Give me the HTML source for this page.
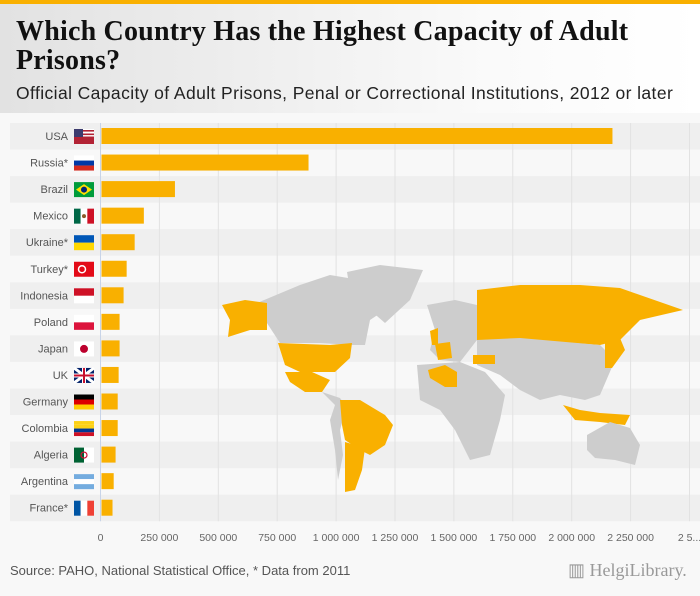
<!DOCTYPE html>
<html><head><meta charset="utf-8"><style>
body{margin:0;width:700px;height:596px;overflow:hidden;background:#f8f8f8;font-family:"Liberation Sans",sans-serif;position:relative}
#topbar{position:absolute;left:0;top:0;width:700px;height:4px;background:#f9b000}
#header{position:absolute;left:0;top:4px;width:700px;height:109px;background:linear-gradient(90deg,#e2e2e2,#fafafa 70%,#fff)}
#title{position:absolute;left:16px;top:13px;font-family:"Liberation Serif",serif;font-weight:bold;font-size:28px;line-height:29px;color:#111;letter-spacing:0.2px;white-space:nowrap}
#subtitle{position:absolute;left:16px;top:79px;font-size:17.5px;color:#222;white-space:nowrap;letter-spacing:0.4px}
#source{position:absolute;left:10px;top:563px;font-size:13px;color:#555}
#logo{position:absolute;left:568px;top:560px;font-family:"Liberation Serif",serif;font-size:18px;color:#999}
svg{position:absolute;left:0;top:0}
</style></head><body>
<div id="topbar"></div>
<div id="header">
<div id="title">Which Country Has the Highest Capacity of Adult<br>Prisons?</div>
<div id="subtitle">Official Capacity of Adult Prisons, Penal or Correctional Institutions, 2012 or later</div>
</div>
<svg id="chart" width="700" height="596"></svg>
<div id="source">Source: PAHO, National Statistical Office, * Data from 2011</div>
<div id="logo">▥ HelgiLibrary.</div>
<script>
const categories=["USA","Russia*","Brazil","Mexico","Ukraine*","Turkey*","Indonesia","Poland","Japan","UK","Germany","Colombia","Algeria","Argentina","France*"];
const values=[2173000,883000,316000,184000,145000,111000,98000,81000,81000,77000,73000,73000,64000,56000,51000];
const tickValues=[0,250000,500000,750000,1000000,1250000,1500000,1750000,2000000,2250000,2500000];
const tickLabels=["0","250 000","500 000","750 000","1 000 000","1 250 000","1 500 000","1 750 000","2 000 000","2 250 000","2 5..."];
const NS="http://www.w3.org/2000/svg";
const svg=document.getElementById('chart');
const x0=100.5,xScale=58.9/250000,top0=123,rowH=26.55;
const xs=v=>x0+v*xScale;
const yr=i=>top0+i*rowH;
function mk(t,a,p){const e=document.createElementNS(NS,t);for(const k in a)e.setAttribute(k,a[k]);(p||svg).appendChild(e);return e;}
categories.forEach((c,i)=>{if(i%2===0){const r=mk('rect',{x:10,y:yr(i),width:690,height:rowH,fill:'#efefef'});

}});
tickValues.forEach((v,i)=>{const l=mk('line',{x1:xs(v),x2:xs(v),y1:top0,y2:top0+categories.length*rowH,stroke:i===0?'#c8d4e8':'#e2e2e2','stroke-width':1});


const t=mk('text',{x:xs(v),y:541,'font-size':10.5,fill:'#666','text-anchor':'middle'});t.textContent=tickLabels[i];

});
const G='#cdcdcd',O='#f9b000';
const shapes=[
[G,"257,303 300,285 330,275 360,280 420,270 400,300 370,320 365,345 352,345 320,343 280,343 265,320"],
[G,"347,272 380,265 423,270 410,300 385,323 370,310 350,290"],
[O,"222,305 245,300 267,303 267,330 250,330 228,337 230,320"],
[O,"278,343 330,345 352,343 350,358 335,372 300,372 285,365"],
[O,"285,372 312,372 330,380 322,392 305,392 290,382"],
[G,"322,392 340,398 345,405 335,405"],
[G,"335,405 348,400 340,430 343,455 338,480 335,450 330,420"],
[O,"340,400 360,400 385,415 393,425 385,445 370,455 360,450 345,440 342,425"],
[O,"345,442 365,448 362,470 355,490 345,492 345,470"],
[G,"427,305 455,300 477,305 477,340 460,362 440,360 430,350 435,330"],
[O,"430,331 438,328 438,345 432,345"],[O,"435,344 450,342 452,358 438,360"],
[O,"477,290 520,285 580,285 620,288 683,310 640,320 620,340 600,345 560,342 520,340 490,345 477,340"],
[G,"477,340 520,338 600,345 615,360 600,395 585,400 560,395 540,400 520,390 500,375 477,365"],
[O,"473,355 495,355 495,364 473,364"],
[O,"605,340 620,338 625,350 612,368 605,368"],
[G,"417,365 460,362 485,372 505,395 500,420 490,455 470,460 455,430 440,410 420,400"],
[O,"428,370 445,365 457,372 457,387 445,387 430,378"],
[O,"563,405 580,410 600,413 630,415 625,425 600,422 575,420"],
[G,"587,435 610,422 630,428 640,445 635,465 615,460 595,458 587,450"]];
shapes.forEach(s=>{const p=mk('polygon',{points:s[1],fill:s[0]});

});
const flags={"USA":["#fff","#b22234"],"Russia*":["#fff","#0039a6","#d52b1e"],"Brazil":["#009c3b"],"Mexico":["#006847","#fff","#ce1126","v"],"Ukraine*":["#0057b7","#ffd700"],"Turkey*":["#e30a17"],"Indonesia":["#ce1126","#fff"],"Poland":["#fff","#dc143c"],"Japan":["#fff"],"UK":["#012169"],"Germany":["#000","#dd0000","#ffce00"],"Colombia":["#fcd116","#fcd116","#003893","#ce1126"],"Algeria":["#006233","#fff","v"],"Argentina":["#74acdf","#fff","#74acdf"],"France*":["#0055a4","#fff","#ef4135","v"]};
categories.forEach((c,i)=>{
const y=yr(i);
const t=mk('text',{x:68,y:y+17,'font-size':11,fill:'#555','text-anchor':'end'});t.textContent=c;


const g=mk('g',{});


let f=flags[c].slice();const vert=f[f.length-1]==='v';if(vert)f.pop();
const fx=74,fy=y+6,fw=20,fh=15;
f.forEach((col,k)=>{if(vert)mk('rect',{x:fx+k*fw/f.length,y:fy,width:fw/f.length,height:fh,fill:col},g);else mk('rect',{x:fx,y:fy+k*fh/f.length,width:fw,height:fh/f.length,fill:col},g);});
if(c==="USA"){for(let k=0;k<4;k++)mk('rect',{x:fx,y:fy+1+k*3.5,width:fw,height:1.6,fill:'#b22234'},g);mk('rect',{x:fx,y:fy,width:9,height:8,fill:'#3c3b6e'},g);}
if(c==="Brazil"){mk('polygon',{points:`${fx+10},${fy+2} ${fx+18},${fy+7.5} ${fx+10},${fy+13} ${fx+2},${fy+7.5}`,fill:'#ffdf00'},g);mk('circle',{cx:fx+10,cy:fy+7.5,r:3,fill:'#002776'},g);}
if(c==="Turkey*")mk('circle',{cx:fx+8,cy:fy+7.5,r:3.5,fill:'none',stroke:'#fff','stroke-width':1.5},g);
if(c==="Japan")mk('circle',{cx:fx+10,cy:fy+7.5,r:4,fill:'#bc002d'},g);
if(c==="UK"){mk('path',{d:`M${fx} ${fy}L${fx+fw} ${fy+fh}M${fx+fw} ${fy}L${fx} ${fy+fh}`,stroke:'#fff','stroke-width':3},g);mk('path',{d:`M${fx+10} ${fy}V${fy+fh}M${fx} ${fy+7.5}H${fx+fw}`,stroke:'#fff','stroke-width':4},g);mk('path',{d:`M${fx+10} ${fy}V${fy+fh}M${fx} ${fy+7.5}H${fx+fw}`,stroke:'#c8102e','stroke-width':2},g);}
if(c==="Algeria")mk('circle',{cx:fx+10,cy:fy+7.5,r:3,fill:'none',stroke:'#d21034','stroke-width':1.2},g);
if(c==="Mexico")mk('circle',{cx:fx+10,cy:fy+7.5,r:2,fill:'#8b5a2b'},g);
const b=mk('rect',{x:x0+1,y:y+5,width:xs(values[i])-x0-1,height:16,fill:'#f9b000'});


});
</script>
</body></html>
